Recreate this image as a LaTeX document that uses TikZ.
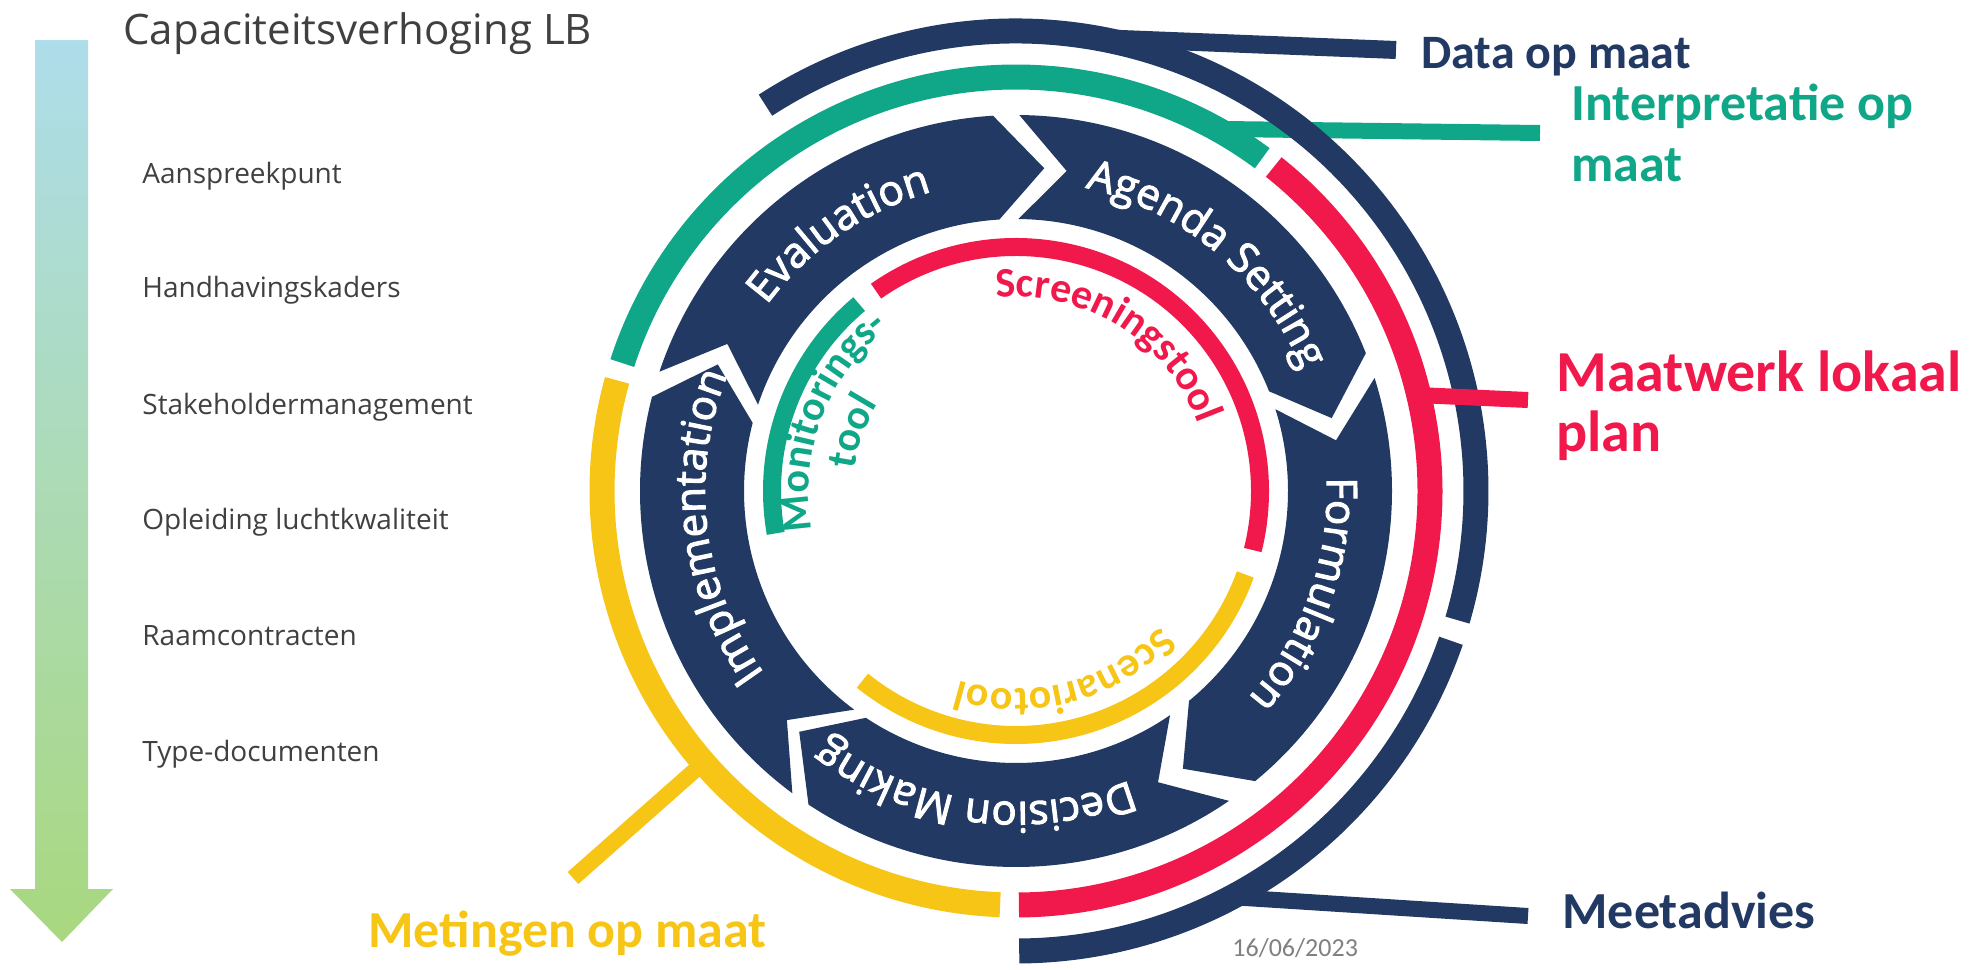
\documentclass[tikz,border=0pt]{standalone}
\usepackage{fontspec}
\setmainfont{Carlito}
\newfontfamily\osans{Open Sans}
\newfontfamily\osansm[FakeBold=2.5]{Open Sans}
\newfontfamily\carl{Carlito}
\usetikzlibrary{decorations.text}
\definecolor{navy}{RGB}{33,57,99}
\definecolor{tgreen}{RGB}{16,166,136}
\definecolor{tred}{RGB}{241,25,76}
\definecolor{tyellow}{RGB}{246,197,22}
\definecolor{txtgray}{RGB}{64,64,64}
\definecolor{dategray}{RGB}{128,128,128}
\definecolor{arrowtop}{RGB}{174,221,235}
\definecolor{arrowbot}{RGB}{169,216,127}
% tail angle, head angle
\newcommand{\chevseg}[2]{%
  \fill[navy] (#1:376) arc[start angle=#1, end angle=#2, radius=376]
    -- ({#2-8.5}:324) -- (#2:272) arc[start angle=#2, end angle=#1, radius=272]
    -- ({#1-8.5}:324) -- cycle;}
% center angle, baseline radius, half span, decoration options, text
\newcommand{\arctext}[5]{%
  \path[decorate, decoration={text along path, text align=center, #4, text={#5}}]
    ({#1+#3}:#2) arc[start angle={#1+#3}, end angle={#1-#3}, radius=#2];}
\tikzset{
  listtext/.style={anchor=base west, inner sep=0, text=txtgray, font=\osans\fontsize{14}{17}\selectfont},
  biglabel/.style={anchor=base west, inner sep=0, font=\carl\bfseries\fontsize{26}{30}\selectfont},
  ringband/.style={line width=12.5pt},
  toolband/.style={line width=9pt},
  conn/.style={line width=8pt}
}
\begin{document}
\begin{tikzpicture}[x=0.5pt,y=0.5pt]
\useasboundingbox (0,0) rectangle (1975,-969);
\begin{scope}
\clip (0,0) rectangle (1975,-969);

% gradient arrow
\shade[top color=arrowtop, bottom color=arrowbot]
  (35,-40) -- (88,-40) -- (88,-889) -- (113,-889) -- (62,-942) -- (10,-889) -- (35,-889) -- cycle;

\node[anchor=base west, inner sep=0, text=txtgray, font=\osans\fontsize{21}{25}\selectfont] (title) at (123,-44) {Capaciteitsverhoging LB};
\node[listtext] (l1) at (142,-183) {Aanspreekpunt};
\node[listtext] (l2) at (142,-297) {Handhavingskaders};
\node[listtext] (l3) at (142,-414) {Stakeholdermanagement};
\node[listtext] (l4) at (142,-529) {Opleiding luchtkwaliteit};
\node[listtext] (l5) at (142,-645) {Raamcontracten};
\node[listtext] (l6) at (142,-761) {Type-documenten};

\begin{scope}[shift={(1016,-491)}]
  % policy cycle segments
  \chevseg{89.5}{21.5}
  \chevseg{17.5}{-50.5}
  \chevseg{-55.5}{-123.5}
  \chevseg{233.5}{165.5}
  \chevseg{161.5}{93.5}
  % segment labels
  \arctext{124.5}{311}{70}{text color=white}{|\osansm\fontsize{21}{21}\selectfont|Evaluation}
  \arctext{50}{311}{70}{text color=white}{|\osansm\fontsize{21}{21}\selectfont|Agenda Setting}
  \arctext{-19.6}{311}{70}{text color=white}{|\osansm\fontsize{21}{21}\selectfont|Formulation}
  \arctext{-98}{311}{70}{text color=white}{|\osansm\fontsize{21}{21}\selectfont|Decision Making}
  \arctext{187}{311}{70}{text color=white}{|\osansm\fontsize{21}{21}\selectfont|Implementation}

  % inner tool ring
  \draw[tred, toolband] (125:244) arc[start angle=125, end angle=-14, radius=244];
  \draw[tyellow, toolband] (-20:244) arc[start angle=-20, end angle=-129, radius=244];
  \draw[tgreen, toolband] (190:244) arc[start angle=190, end angle=130, radius=244];
  \arctext{58}{194}{80}{text color=tred}{|\carl\bfseries\fontsize{21}{21}\selectfont|Screeningstool}
  \arctext{-75}{198}{80}{text color=tyellow}{|\carl\bfseries\fontsize{21}{21}\selectfont|Scenariotool}
  \arctext{159.5}{207}{60}{text color=tgreen}{|\carl\bfseries\fontsize{21}{21}\selectfont|Monitorings-}
  \arctext{160}{163}{60}{text color=tgreen}{|\carl\bfseries\fontsize{21}{21}\selectfont|tool}

  % coloured ring
  \draw[tgreen, ringband] (162:414) arc[start angle=162, end angle=53.5, radius=414];
  \draw[tred, ringband] (51.5:414) arc[start angle=51.5, end angle=-89.6, radius=414];
  \draw[tyellow, ringband] (164.5:414) arc[start angle=164.5, end angle=267.8, radius=414];

  \coordinate (dataS) at (80:460);
  \coordinate (interpS) at (61:414);
  \coordinate (maatS) at (13.4:414);
  \coordinate (meetS) at (-62:460);
  \coordinate (metS) at (-139:414);
\end{scope}

\coordinate (dataE) at (1396,-50);
\coordinate (interpE) at (1540,-133);
\coordinate (maatE) at (1528,-400);
\coordinate (meetE) at (1528,-916);
\coordinate (metE) at (573,-878);

\draw[tgreen, conn] (interpS) -- (interpE);

\begin{scope}[shift={(1016,-491)}]
  \draw[navy, ringband] (123:460) arc[start angle=123, end angle=-16.3, radius=460];
  \draw[navy, ringband] (-19:460) arc[start angle=-19, end angle=-89.6, radius=460];
\end{scope}

\draw[navy, line width=9pt] (dataS) -- (dataE);
\draw[navy, conn] (meetS) -- (meetE);
\draw[tred, conn] (maatS) -- (maatE);
\draw[tyellow, conn] (metS) -- (metE);

% labels
\node[biglabel, text=navy, font=\carl\bfseries\fontsize{24}{28}\selectfont] (data) at (1421,-68) {Data op maat};
\node[biglabel, text=tgreen] (interp1) at (1571,-120) {Interpretatie op};
\node[biglabel, text=tgreen] (interp2) at (1571,-181) {maat};
\node[biglabel, text=tred, font=\carl\bfseries\fontsize{29}{33}\selectfont] (maat1) at (1556,-391) {Maatwerk lokaal};
\node[biglabel, text=tred, font=\carl\bfseries\fontsize{29}{33}\selectfont] (maat2) at (1556,-451) {plan};
\node[biglabel, text=navy] (meet) at (1562,-928) {Meetadvies};
\node[biglabel, text=tyellow] (met) at (368,-947) {Metingen op maat};
\node[anchor=base west, inner sep=0, text=dategray, font=\carl\fontsize{13}{15}\selectfont] (date) at (1232,-956) {16/06/2023};
\end{scope}
\end{tikzpicture}
\end{document}
